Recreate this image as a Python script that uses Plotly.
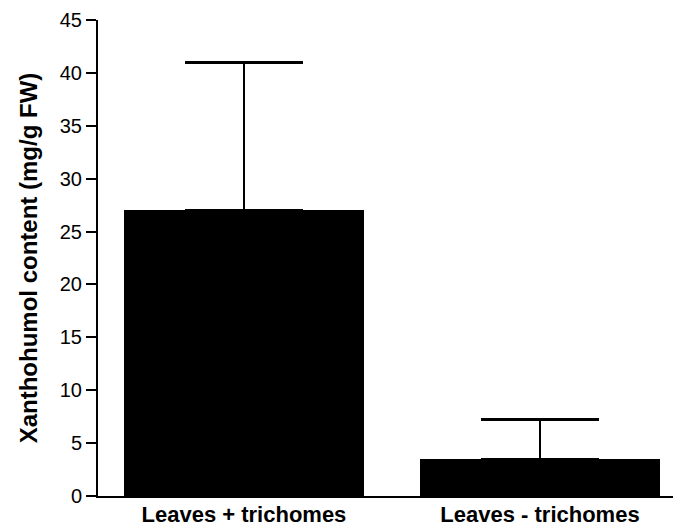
import plotly.graph_objects as go

categories = ["Leaves + trichomes", "Leaves - trichomes"]
means = [27.0, 3.5]
errors_up = [14.0, 3.75]

positions = list(range(len(categories)))

fig = go.Figure()
fig.add_trace(go.Bar(
    x=positions,
    y=means,
    width=0.81,
    marker=dict(color="black", line=dict(width=0)),
    error_y=dict(type="data", symmetric=False, array=errors_up,
                 arrayminus=[0] * len(means),
                 color="black", thickness=2.5, width=59),
    showlegend=False,
))

fig.update_layout(
    width=672, height=522,
    margin=dict(l=90, r=0, t=12, b=34, autoexpand=False),
    plot_bgcolor="white", paper_bgcolor="white",
    font=dict(family="Arial, Liberation Sans, sans-serif", color="black"),
    bargap=0,
    xaxis=dict(
        tickmode="array", tickvals=positions, ticktext=categories,
        range=[-0.493, 1.473],
        showline=True, linecolor="black", linewidth=2,
        ticks="", showgrid=False, zeroline=False, automargin=False,
        ticklabelstandoff=-2,
        tickfont=dict(size=22, family="Arial", weight="bold"),
    ),
    yaxis=dict(
        range=[0, 45], tick0=0, dtick=5,
        showline=True, linecolor="black", linewidth=2,
        ticks="outside", ticklen=10, tickwidth=2, tickcolor="black",
        showgrid=False, zeroline=False, automargin=False,
        tickfont=dict(size=20, family="Arial"),
        title=dict(text="Xanthohumol content (mg/g FW)",
                   font=dict(size=24, family="Arial", weight="bold"),
                   standoff=15),
    ),
)

fig.write_html("out.html")
